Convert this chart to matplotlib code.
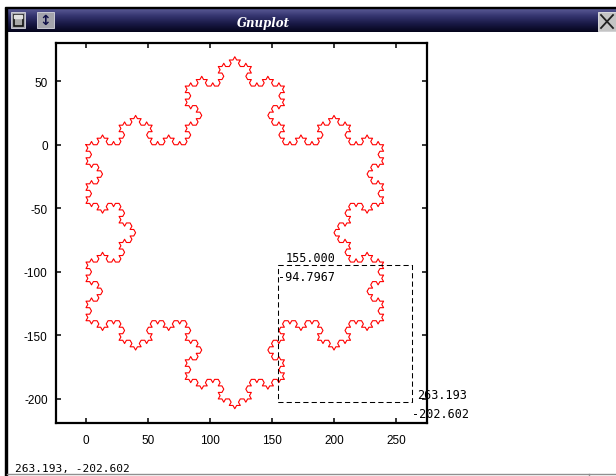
import numpy as np
import matplotlib
matplotlib.use("Agg")
import matplotlib.pyplot as plt
from matplotlib.patches import Rectangle
from matplotlib.colors import LinearSegmentedColormap

plt.rcParams['axes.unicode_minus'] = False

# Koch snowflake: corners of the starting triangle and recursion depth
tri_x = [0.0, 240.0, 120.0]
tri_y = [0.0, 0.0, -207.846]
koch_depth = 4

# Zoom box corners (mouse selection)
box_x = [155.0, 263.193]
box_y = [-94.7967, -202.602]
box_labels = ["155.000", "-94.7967", "263.193", "-202.602"]
status_text = "263.193, -202.602"

xticks = [0, 50, 100, 150, 200, 250]
yticks = [-200, -150, -100, -50, 0, 50]


def koch(points, depth):
    pts = np.asarray(points, dtype=float)
    rot = np.exp(1j * np.pi / 3)
    z = pts[:, 0] + 1j * pts[:, 1]
    for _ in range(depth):
        a = z[:-1]
        b = z[1:]
        d = (b - a) / 3
        p1 = a + d
        p2 = p1 + d * rot
        p3 = a + 2 * d
        out = np.empty(4 * len(a) + 1, dtype=complex)
        out[0:-1:4] = a
        out[1:-1:4] = p1
        out[2:-1:4] = p2
        out[3:-1:4] = p3
        out[-1] = z[-1]
        z = out
    return z.real, z.imag


W, H = 616, 477
fig = plt.figure(figsize=(W / 100, H / 100), dpi=100)

# ---- window frame -------------------------------------------------------
bg = fig.add_axes([0, 0, 1, 1])
bg.set_xlim(0, W)
bg.set_ylim(H, 0)
bg.axis('off')

bar_cmap = LinearSegmentedColormap.from_list(
    'bar', ['#5c5c98', '#34346e', '#181844', '#05051c'])
grad = np.linspace(0, 1, 64).reshape(-1, 1)
bg.imshow(grad, cmap=bar_cmap, aspect='auto', extent=[5, W, 33, 9],
          interpolation='bilinear', zorder=1)
bg.add_patch(Rectangle((5, 8), W - 5, 1.2, color='black', zorder=2))
bg.add_patch(Rectangle((5, 9), 1.6, H - 9, color='black', zorder=2))

# left "window" button
bg.add_patch(Rectangle((11, 13), 14, 16, facecolor='#a4a4ac',
                       edgecolor='#d8d8e0', lw=0.6, zorder=3))
bg.add_patch(Rectangle((13.5, 15.5), 9, 11, facecolor='#a8a8a8',
                       edgecolor='#101010', lw=1.2, zorder=4))
bg.add_patch(Rectangle((14.2, 16.2), 7.6, 2.5, color='#e0e0e0', zorder=5))
# resize button
bg.add_patch(Rectangle((37, 13), 17, 16, facecolor='#a4a4ac',
                       edgecolor='#d8d8e0', lw=0.6, zorder=3))
bg.text(45.5, 21, '\u2195', color='#101048', fontsize=10, fontweight='bold',
        ha='center', va='center', family='DejaVu Sans', zorder=5)
# close button
bg.add_patch(Rectangle((598, 13), 18, 19, facecolor='#c4c4c4',
                       edgecolor='#e8e8e8', lw=0.6, zorder=3))
bg.plot([601, 613], [16, 29], color='#202020', lw=1.3, zorder=5)
bg.plot([601, 613], [29, 16], color='#202020', lw=1.3, zorder=5)

bg.text(263, 23, 'Gnuplot', color='white', fontsize=8.5,
        fontweight='bold', fontstyle='italic', family='DejaVu Serif',
        ha='center', va='center', zorder=5)

# status bar
bg.plot([7, W], [475, 475], color='#909090', lw=1.0, zorder=2)
bg.plot([589, 589], [475, H], color='#909090', lw=1.0, zorder=2)
bg.text(15, 472, status_text, family='DejaVu Sans Mono', fontsize=8,
        color='black', ha='left', va='baseline', zorder=5)

# ---- plot area ----------------------------------------------------------
left, right, top, bottom = 56, 427, 44, 424
ax = fig.add_axes([left / W, (H - bottom) / H, (right - left) / W,
                   (bottom - top) / H])
ax.set_facecolor('white')

kx, ky = koch(np.column_stack([tri_x + tri_x[:1], tri_y + tri_y[:1]]),
              koch_depth)
ax.plot(kx, ky, color='red', lw=0.8)

ax.plot([box_x[0], box_x[1], box_x[1], box_x[0], box_x[0]],
        [box_y[0], box_y[0], box_y[1], box_y[1], box_y[0]],
        color='black', lw=0.75, dashes=[5, 3])

mono = dict(family='DejaVu Sans Mono', fontsize=8.5, color='black',
            ha='left', va='baseline', annotation_clip=False,
            textcoords='offset pixels', zorder=4)
ax.annotate(box_labels[0], (box_x[0], box_y[0]), xytext=(7, 4), **mono)
ax.annotate(box_labels[1], (box_x[0], box_y[0]), xytext=(0, -14.5), **mono)
ax.annotate(box_labels[2], (box_x[1], box_y[1]), xytext=(5, 4), **mono)
ax.annotate(box_labels[3], (box_x[1], box_y[1]), xytext=(0, -15), **mono)

ax.set_xlim(-24.2, 275.0)
ax.set_ylim(-219.1, 80.1)
ax.set_xticks(xticks)
ax.set_yticks(yticks)
ax.tick_params(direction='in', length=3.6, width=1.1, top=True, right=True,
               labelsize=8.5, colors='black')
ax.tick_params(axis='y', pad=6)
ax.tick_params(axis='x', pad=8)
for lab in ax.get_xticklabels() + ax.get_yticklabels():
    lab.set_family('Liberation Sans')
for s in ax.spines.values():
    s.set_linewidth(1.6)
    s.set_color('black')

fig.savefig('out.png', dpi=100)
